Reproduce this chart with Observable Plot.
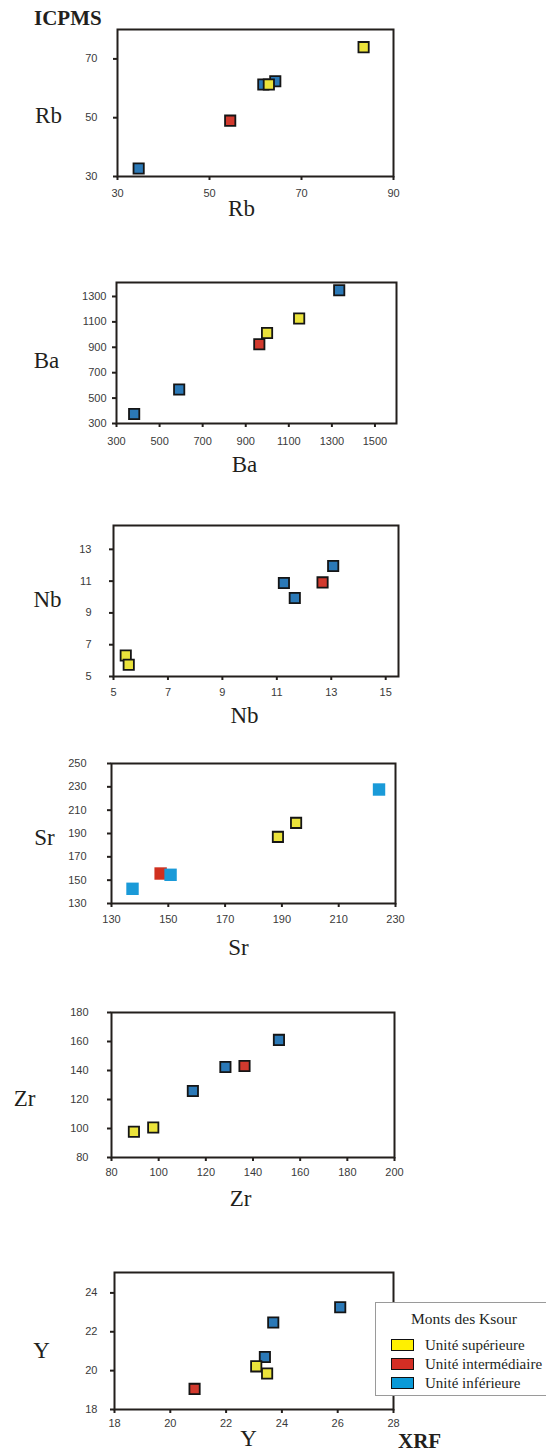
<!DOCTYPE html>
<html>
<head>
<meta charset="utf-8">
<script src="https://cdn.jsdelivr.net/npm/d3@7"></script>
<script src="https://cdn.jsdelivr.net/npm/@observablehq/plot@0.6"></script>
<style>
  html, body { margin: 0; padding: 0; background: #fff; }
  #wrap { position: relative; width: 546px; height: 1454px; overflow: hidden; background: #fff; }
  .serifb { position: absolute; font-family: "Liberation Serif", "Times New Roman", serif; font-weight: bold; font-size: 21px; color: #231f1c; line-height: 1; }
  #legend { position: absolute; left: 375px; top: 1302px; width: 172px; height: 94px; background: #fff; border: 1px solid #9a9a9a; border-right: none; box-sizing: border-box; font-family: "Liberation Serif", "Times New Roman", serif; font-size: 15px; color: #231f1c; }
  #legend .title { position: absolute; left: 0; width: 176px; top: 7px; text-align: center; font-size: 15.5px; }
  #legend .row { position: absolute; left: 15px; height: 18px; display: flex; align-items: center; white-space: nowrap; }
  #legend .sw { width: 21px; height: 10px; border: 1.5px solid #111; margin-right: 11px; }
</style>
</head>
<body>
<div id="wrap"></div>
<script>
// ---- data ----
const groupKeys = ["sup", "int", "inf"];
const groupNames = ["Unité supérieure", "Unité intermédiaire", "Unité inférieure"];
const legendTitle = "Monts des Ksour";

const rbX = [34.6, 54.5, 61.7, 64.3, 62.9, 83.5];
const rbY = [32.7, 49.0, 61.3, 62.4, 61.3, 74.0];
const rbG = ["inf", "int", "inf", "inf", "sup", "sup"];
const rbXTicks = [30, 50, 70, 90];
const rbYTicks = [30, 50, 70];

const baX = [382, 591, 963, 999, 1148, 1334];
const baY = [375, 567, 924, 1012, 1126, 1349];
const baG = ["inf", "inf", "int", "sup", "sup", "inf"];
const baXTicks = [300, 500, 700, 900, 1100, 1300, 1500];
const baYTicks = [300, 500, 700, 900, 1100, 1300];

const nbX = [5.45, 5.56, 11.26, 11.66, 12.68, 13.07];
const nbY = [6.32, 5.74, 10.88, 9.94, 10.92, 11.95];
const nbG = ["sup", "sup", "inf", "inf", "int", "inf"];
const nbXTicks = [5, 7, 9, 11, 13, 15];
const nbYTicks = [5, 7, 9, 11, 13];

const srX = [137.4, 147.3, 150.8, 188.6, 195.0, 224.2];
const srY = [142.6, 155.7, 154.6, 187.1, 199.1, 227.7];
const srG = ["inf", "int", "inf", "sup", "sup", "inf"];
const srXTicks = [130, 150, 170, 190, 210, 230];
const srYTicks = [130, 150, 170, 190, 210, 230, 250];

const zrX = [89.5, 97.7, 114.5, 128.3, 136.4, 151.0];
const zrY = [97.7, 100.7, 125.9, 142.4, 143.1, 161.1];
const zrG = ["sup", "sup", "inf", "inf", "int", "inf"];
const zrXTicks = [80, 100, 120, 140, 160, 180, 200];
const zrYTicks = [80, 100, 120, 140, 160, 180];

const yX = [20.87, 23.39, 23.69, 26.09, 23.08, 23.47];
const yY = [19.06, 20.70, 22.48, 23.26, 20.22, 19.85];
const yG = ["int", "inf", "inf", "inf", "sup", "sup"];
const yXTicks = [18, 20, 22, 24, 26, 28];
const yYTicks = [18, 20, 22, 24];

// ---- styling ----
const colors = {sup: "#ebe33b", int: "#d23a2e", inf: "#2b79b7"};
const colorsLight = {sup: "#ebe33b", int: "#d0301f", inf: "#1a9ad8"};
const legendColors = {sup: "#fff000", int: "#d42e24", inf: "#0a9ad8"};
const W = 546;
const wrap = document.getElementById("wrap");

function panel(c) {
  const data = c.x.map((x, i) => ({x, y: c.y[i], g: c.g[i]}));
  const mt = 20, mb = 60;
  const L = c.L, R = c.R, T = c.T, B = c.B;
  const cmap = c.light ? colorsLight : colors;
  const noStroke = c.light ? ["int", "inf"] : [];
  const plain = data.filter(d => noStroke.includes(d.g));
  const outlined = data.filter(d => !noStroke.includes(d.g));
  const serif = "'Liberation Serif', 'Times New Roman', serif";
  const plot = Plot.plot({
    width: W,
    height: (B - T) + mt + mb,
    marginLeft: L, marginRight: W - R, marginTop: mt, marginBottom: mb,
    x: {domain: c.xd},
    y: {domain: c.yd},
    style: {background: "transparent", overflow: "visible", fontFamily: "'Liberation Sans', Arial, sans-serif", fontSize: "11px"},
    marks: [
      Plot.axisX({ticks: c.xt, tickSize: 4, tickPadding: c.xpad, tickFormat: d => String(d), label: null, stroke: "#231f1c", strokeWidth: 2, fill: "#3a3a3a", fontSize: 11}),
      Plot.axisY({ticks: c.yt, tickSize: 4, tickPadding: c.ypad, tickFormat: d => String(d), label: null, stroke: "#231f1c", strokeWidth: 2, fill: "#3a3a3a", fontSize: 11}),
      Plot.frame({stroke: "#231f1c", strokeWidth: 2}),
      Plot.dot(plain, {x: "x", y: "y", symbol: "square", r: 7, fill: d => cmap[d.g]}),
      Plot.dot(outlined, {x: "x", y: "y", symbol: "square", r: 5.8, fill: d => cmap[d.g], stroke: "#151515", strokeWidth: 1.8}),
      Plot.text([c.label], {frameAnchor: "bottom-left", dx: c.xlx - L, dy: c.xly - B, text: d => d, textAnchor: "middle", lineAnchor: "middle", fontFamily: serif, fontSize: 23, fill: "#231f1c"}),
      Plot.text([c.label], {frameAnchor: "top-left", dx: c.ylx - L, dy: c.yly - T, text: d => d, textAnchor: "middle", lineAnchor: "middle", fontFamily: serif, fontSize: 23, fill: "#231f1c"})
    ]
  });
  plot.style.position = "absolute";
  plot.style.left = "0px";
  plot.style.top = (T - mt) + "px";
  wrap.appendChild(plot);
}

panel({label: "Rb", x: rbX, y: rbY, g: rbG, xd: [30, 90], yd: [30, 80], xt: rbXTicks, yt: rbYTicks,
  L: 117, R: 393, T: 29, B: 176, xpad: 9, ypad: 16, xlx: 241, xly: 208, ylx: 48, yly: 115});
panel({label: "Ba", x: baX, y: baY, g: baG, xd: [300, 1600], yd: [300, 1410], xt: baXTicks, yt: baYTicks,
  L: 116, R: 396, T: 282, B: 423, xpad: 10, ypad: 6, xlx: 244, xly: 464, ylx: 46, yly: 360});
panel({label: "Nb", x: nbX, y: nbY, g: nbG, xd: [5, 15.47], yd: [5, 14.5], xt: nbXTicks, yt: nbYTicks,
  L: 113, R: 398, T: 525, B: 676, xpad: 8, ypad: 18, xlx: 244, xly: 715, ylx: 47, yly: 599});
panel({label: "Sr", x: srX, y: srY, g: srG, xd: [130, 230], yd: [130, 250], xt: srXTicks, yt: srYTicks, light: true,
  L: 111, R: 395, T: 763, B: 903, xpad: 8, ypad: 21, xlx: 238, xly: 947, ylx: 44, yly: 837});
panel({label: "Zr", x: zrX, y: zrY, g: zrG, xd: [80, 200], yd: [80, 180], xt: zrXTicks, yt: zrYTicks,
  L: 111, R: 394, T: 1012, B: 1157, xpad: 7, ypad: 19, xlx: 240, xly: 1198, ylx: 24, yly: 1098});
panel({label: "Y", x: yX, y: yY, g: yG, xd: [18, 28], yd: [18, 25.05], xt: yXTicks, yt: yYTicks,
  L: 114, R: 393, T: 1272, B: 1409, xpad: 6, ypad: 13, xlx: 248, xly: 1438, ylx: 41, yly: 1350});

// titles
const t1 = document.createElement("div");
t1.className = "serifb"; t1.textContent = "ICPMS";
t1.style.left = "34px"; t1.style.top = "8px";
wrap.appendChild(t1);
const t2 = document.createElement("div");
t2.className = "serifb"; t2.textContent = "XRF";
t2.style.left = "398px"; t2.style.top = "1431px";
wrap.appendChild(t2);

// legend
const lg = document.createElement("div");
lg.id = "legend";
const lt = document.createElement("div");
lt.className = "title"; lt.textContent = legendTitle;
lg.appendChild(lt);
groupKeys.forEach((k, i) => {
  const row = document.createElement("div");
  row.className = "row";
  row.style.top = (33 + i * 19) + "px";
  const sw = document.createElement("div");
  sw.className = "sw"; sw.style.background = legendColors[k];
  const tx = document.createElement("span");
  tx.textContent = groupNames[i];
  row.appendChild(sw); row.appendChild(tx);
  lg.appendChild(row);
});
wrap.appendChild(lg);
</script>
</body>
</html>
